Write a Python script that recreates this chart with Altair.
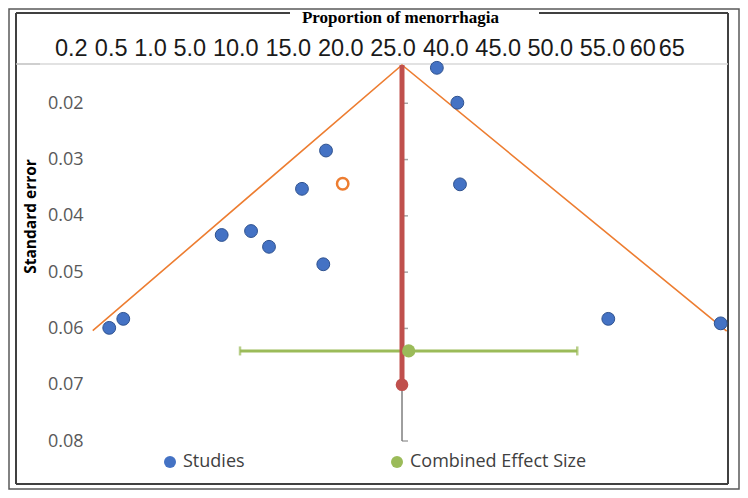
import json
import altair as alt
import pandas as pd

# ---------------- data ----------------
XTICK_VALUES = [0.2, 0.5, 1.0, 5.0, 10.0, 15.0, 20.0, 25.0, 40.0, 45.0, 50.0, 55.0, 60.0, 65.0]
XTICK_LABELS = ["0.2", "0.5", "1.0", "5.0", "10.0", "15.0", "20.0", "25.0",
                "40.0", "45.0", "50.0", "55.0", "60", "65"]
YTICKS = [0.02, 0.03, 0.04, 0.05, 0.06, 0.07, 0.08]

STUDY_P = [37.6, 41.15, 18.64, 16.35, 41.4, 8.52, 11.5, 13.21, 18.38, 0.489, 0.66, 55.78, 73.56]
STUDY_SE = [0.0137, 0.0199, 0.0284, 0.0352, 0.0344, 0.0434, 0.0427, 0.0455, 0.0486,
            0.0599, 0.0583, 0.0583, 0.0591]

IMPUTED_P = [20.23]
IMPUTED_SE = [0.0343]

POOLED_P = 27.7
POOLED_SE_TOP = 0.0132
POOLED_SE_END = 0.07
AXIS_SE_END = 0.08

COMB_P = 29.6
COMB_LO = 10.45
COMB_HI = 52.63
COMB_SE = 0.0640

FUNNEL_P = [0.365, 27.7, 74.6]
FUNNEL_SE = [0.0604, 0.0132, 0.0605]

LEGEND_KINDS = ["Studies", "Combined Effect Size"]

# ---------------- styling / layout ----------------
BLUE = "#4472C4"
BLUE_EDGE = "#2F528F"
GREEN = "#9BBB59"
RED = "#C0504D"
ORANGE = "#ED7D31"
GRAY = "#7F7F7F"

W, H = 688, 376
# pixel positions of the (irregular) top-axis labels inside the plot area
XTICK_PIXELS = [30.8, 70.7, 110, 149.3, 195.3, 247.8, 300.3, 352.5,
                405.3, 457.7, 509.8, 562, 602.3, 631.2]

label_expr = f"{json.dumps(XTICK_LABELS)}[indexof({json.dumps(XTICK_VALUES)}, datum.value)]"

xscale = alt.Scale(domain=XTICK_VALUES, range=XTICK_PIXELS, zero=False, nice=False)
yscale = alt.Scale(domain=[POOLED_SE_TOP, AXIS_SE_END], reverse=True, zero=False, nice=False)

xaxis = alt.Axis(orient="top", values=XTICK_VALUES, labelExpr=label_expr, grid=False,
                 domain=False, ticks=False, tickSize=0, labelPadding=5,
                 labelFont="Liberation Sans", labelFontSize=23.5, labelColor="#1a1a1a",
                 labelOverlap=False, labelFlush=False, labelBound=False,
                 title="Proportion of menorrhagia", titleFont="Liberation Serif",
                 titleFontSize=17, titleFontWeight="bold", titleColor="black",
                 titleX=360, titleY=-43, titleAlign="center", titleBaseline="alphabetic")

yaxis = alt.Axis(values=YTICKS, format=".2f", grid=False, domain=False, ticks=False,
                 tickSize=0, labelPadding=0, offset=-43,
                 labelFont="Open Sans", labelFontSize=18, labelColor="#595959",
                 labelOverlap=False, labelFlush=False,
                 title="Standard error", titleFont="Open Sans", titleFontSize=15.5,
                 titleFontWeight="bold", titleColor="black",
                 titleX=-45, titleY=151, titleAngle=270, titleBaseline="bottom",
                 titleAlign="center")

X = alt.X("p:Q", scale=xscale, axis=xaxis)
Y = alt.Y("se:Q", scale=yscale, axis=yaxis)

color_enc = alt.Color(
    "kind:N",
    scale=alt.Scale(domain=LEGEND_KINDS, range=[BLUE, GREEN]),
    legend=alt.Legend(orient="none", legendX=121, legendY=388, direction="horizontal",
                      title=None, symbolType="circle", symbolSize=144,
                      symbolStrokeWidth=0, symbolOpacity=1,
                      labelFont="Open Sans", labelFontSize=18, labelColor="#404040",
                      labelOffset=4, labelLimit=0, columnPadding=143, padding=0),
)

# ---------------- tables ----------------
studies = pd.DataFrame({"p": STUDY_P, "se": STUDY_SE, "kind": "Studies"})
imputed = pd.DataFrame({"p": IMPUTED_P, "se": IMPUTED_SE})
funnel = pd.DataFrame({"p": FUNNEL_P, "se": FUNNEL_SE, "o": list(range(len(FUNNEL_P)))})
pooled_line = pd.DataFrame({"p": [POOLED_P], "se": [POOLED_SE_TOP], "se2": [POOLED_SE_END]})
axis_line = pd.DataFrame({"p": [POOLED_P], "se": [POOLED_SE_TOP], "se2": [AXIS_SE_END]})
axis_ticks = pd.DataFrame({"p": [POOLED_P] * len(YTICKS), "se": YTICKS})
pooled_dot = pd.DataFrame({"p": [POOLED_P], "se": [POOLED_SE_END]})
comb = pd.DataFrame({"p": [COMB_P], "se": [COMB_SE], "kind": ["Combined Effect Size"]})
comb_bar = pd.DataFrame({"p": [COMB_LO], "p2": [COMB_HI], "se": [COMB_SE]})
comb_caps = pd.DataFrame({"p": [COMB_LO, COMB_HI], "se": [COMB_SE, COMB_SE]})

one = alt.Data(values=[{"k": 0}])


def seg(x1, x2, y1, y2, color, w):
    return alt.Chart(one).mark_rule(color=color, strokeWidth=w).encode(
        x=alt.value(x1), x2=alt.value(x2), y=alt.value(y1), y2=alt.value(y2))


outer = alt.Chart(one).mark_rect(fillOpacity=0, stroke="#595959", strokeWidth=1.5).encode(
    x=alt.value(-31), x2=alt.value(699), y=alt.value(-56), y2=alt.value(424))

frames = [
    outer,
    seg(-24, -24, -52, 419, "#404040", 2),
    seg(688, 688, -52, 419, "#404040", 2),
    seg(-24, 688, 419, 419, "#404040", 2),
    seg(-24, 250, -52, -52, "#404040", 2),
    seg(499, 688, -52, -52, "#404040", 2),
    seg(-24, 0, -1, -1, "#BFBFBF", 1.5),
    seg(0, 688, -1, -1, "#D9D9D9", 1.5),
]

funnel_layer = alt.Chart(funnel).mark_line(color=ORANGE, strokeWidth=1.6).encode(
    x=X, y=Y, order="o:Q")

axis_rule = alt.Chart(axis_line).mark_rule(color=GRAY, strokeWidth=1.5).encode(
    x=X, y=Y, y2="se2:Q")
axis_tick = alt.Chart(axis_ticks).mark_tick(
    color=GRAY, orient="horizontal", size=6, thickness=1.5, xOffset=3).encode(x=X, y=Y)

bar = alt.Chart(comb_bar).mark_rule(color=GREEN, strokeWidth=3).encode(x=X, x2="p2:Q", y=Y)
caps = alt.Chart(comb_caps).mark_tick(
    color=GREEN, orient="vertical", size=9, thickness=2.5).encode(x=X, y=Y)

red_rule = alt.Chart(pooled_line).mark_rule(color=RED, strokeWidth=5).encode(
    x=X, y=Y, y2="se2:Q")
red_dot = alt.Chart(pooled_dot).mark_circle(color=RED, size=160, opacity=1).encode(x=X, y=Y)

green_dot = alt.Chart(comb).mark_circle(size=175, opacity=1).encode(x=X, y=Y, color=color_enc)

study_pts = alt.Chart(studies).mark_circle(
    size=165, opacity=1, stroke=BLUE_EDGE, strokeWidth=1).encode(x=X, y=Y, color=color_enc)

imputed_pts = alt.Chart(imputed).mark_point(
    shape="circle", filled=False, size=130, color=ORANGE, strokeWidth=2.5, opacity=1
).encode(x=X, y=Y)

chart = alt.layer(
    *frames, funnel_layer, axis_rule, axis_tick, bar, caps, red_rule, green_dot, red_dot,
    study_pts, imputed_pts
).properties(
    width=W, height=H,
    autosize=alt.AutoSizeParams(type="none"),
    padding={"left": 32, "top": 57, "right": 12, "bottom": 49},
    background="white",
).configure_view(stroke=None)

chart.save("out.html", embed_options={"renderer": "svg", "actions": False})
